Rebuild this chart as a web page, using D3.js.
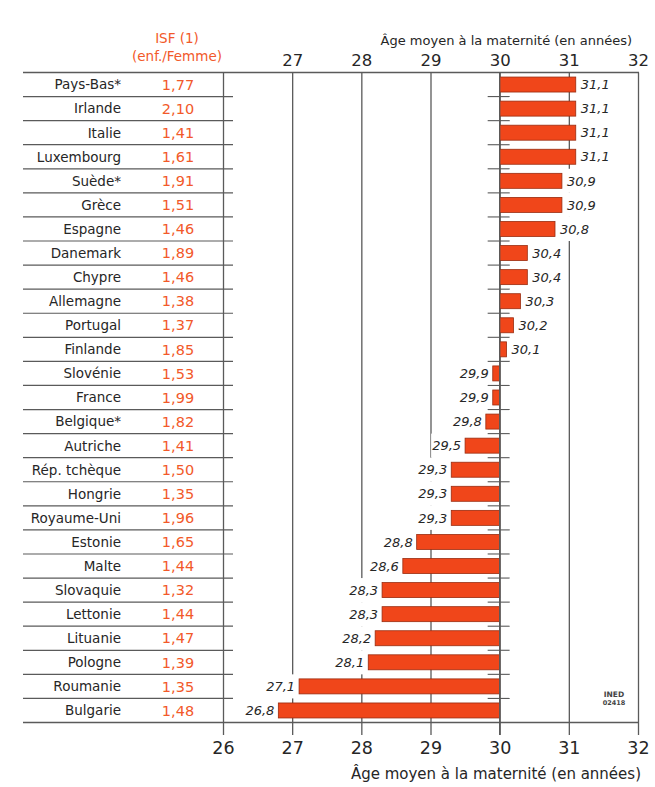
<!DOCTYPE html>
<html>
<head>
<meta charset="utf-8">
<script src="https://cdn.jsdelivr.net/npm/d3@7"></script>
<style>
  html, body { margin: 0; padding: 0; background: #fff; }
  svg { display: block; }
  text { font-family: "DejaVu Sans", sans-serif; }
</style>
</head>
<body>
<svg id="chart" width="655" height="787"></svg>
<script>
const countries = ["Pays-Bas*", "Irlande", "Italie", "Luxembourg", "Suède*", "Grèce", "Espagne",
  "Danemark", "Chypre", "Allemagne", "Portugal", "Finlande", "Slovénie", "France", "Belgique*",
  "Autriche", "Rép. tchèque", "Hongrie", "Royaume-Uni", "Estonie", "Malte", "Slovaquie",
  "Lettonie", "Lituanie", "Pologne", "Roumanie", "Bulgarie"];
const ageMaternite = [31.1, 31.1, 31.1, 31.1, 30.9, 30.9, 30.8, 30.4, 30.4, 30.3, 30.2, 30.1,
  29.9, 29.9, 29.8, 29.5, 29.3, 29.3, 29.3, 28.8, 28.6, 28.3, 28.3, 28.2, 28.1, 27.1, 26.8];
const isf = ["1,77", "2,10", "1,41", "1,61", "1,91", "1,51", "1,46", "1,89", "1,46", "1,38",
  "1,37", "1,85", "1,53", "1,99", "1,82", "1,41", "1,50", "1,35", "1,96", "1,65", "1,44",
  "1,32", "1,44", "1,47", "1,39", "1,35", "1,48"];
const topTicks = [27, 28, 29, 30, 31, 32];
const bottomTicks = [26, 27, 28, 29, 30, 31, 32];
const axisTitle = "Âge moyen à la maternité (en années)";

const svg = d3.select("#chart");
const TEXT = "#262626";
const LINE = "#5a5a5a";
const ORANGE = "#f2592a";
const BAR = "#f0461a";

const x = d3.scaleLinear().domain([26, 32]).range([223, 638]);
const y = d3.scaleBand().domain(countries).range([72.5, 722.5]).paddingInner(0).paddingOuter(0);
const step = y.step();
const barH = 15;
const left = 23, right = 639, tableRight = 233;
const gridBottom = 735;

// gridlines via bottom axis
const gAxisB = svg.append("g").attr("transform", `translate(0,${gridBottom})`)
  .call(d3.axisBottom(x).tickValues(bottomTicks).tickFormat(d3.format("d"))
    .tickSizeInner(-(gridBottom - 72.5)).tickSizeOuter(0).tickPadding(7));
gAxisB.select(".domain").remove();
gAxisB.selectAll(".tick line").attr("stroke", LINE).attr("stroke-width", 1.3);
gAxisB.selectAll(".tick text").attr("fill", TEXT).attr("font-size", 17.5)
  .attr("font-family", "DejaVu Sans, sans-serif");

// top axis labels
const gAxisT = svg.append("g").attr("transform", `translate(0,72.5)`)
  .call(d3.axisTop(x).tickValues(topTicks).tickFormat(d3.format("d"))
    .tickSizeInner(0).tickSizeOuter(0).tickPadding(7));
gAxisT.select(".domain").remove();
gAxisT.selectAll(".tick text").attr("fill", TEXT).attr("font-size", 16.5)
  .attr("font-family", "DejaVu Sans, sans-serif");

// bar value labels with white backgrounds
const labels = svg.append("g");
countries.forEach((c, i) => {
  const v = ageMaternite[i];
  const cy = y(c) + step / 2;
  const isRight = v >= 30;
  const lx = isRight ? x(v) + 5 : x(v) - 4;
  const t = labels.append("text")
    .attr("x", lx).attr("y", cy).attr("dy", "0.36em")
    .attr("text-anchor", isRight ? "start" : "end")
    .attr("font-size", 13).attr("font-style", "italic")
    .attr("fill", TEXT)
    .text(d3.format(".1f")(v).replace(".", ","));
  const bb = t.node().getBBox();
  labels.insert("rect", () => t.node())
    .attr("x", bb.x - 1).attr("y", y(c)).attr("width", bb.width + 2).attr("height", step)
    .attr("fill", "#fff");
});

// row separators (left table) and small ticks at 30
const boundaries = countries.slice(1).map(c => y(c));
svg.append("g").selectAll("line").data(boundaries).join("line")
  .attr("x1", left).attr("x2", tableRight).attr("y1", d => d).attr("y2", d => d)
  .attr("stroke", LINE).attr("stroke-width", 1.2);
svg.append("g").selectAll("line").data(boundaries).join("line")
  .attr("x1", x(30) - 12).attr("x2", x(30) + 10).attr("y1", d => d).attr("y2", d => d)
  .attr("stroke", LINE).attr("stroke-width", 1.1);

// top and bottom frame lines
svg.append("line").attr("x1", left).attr("x2", right).attr("y1", 72.5).attr("y2", 72.5)
  .attr("stroke", LINE).attr("stroke-width", 1.3);
svg.append("line").attr("x1", left).attr("x2", right).attr("y1", 722.5).attr("y2", 722.5)
  .attr("stroke", LINE).attr("stroke-width", 1.3);

// bars
svg.append("g").selectAll("rect").data(countries).join("rect")
  .attr("x", (c, i) => Math.min(x(30), x(ageMaternite[i])))
  .attr("width", (c, i) => Math.abs(x(ageMaternite[i]) - x(30)))
  .attr("y", c => y(c) + (step - barH) / 2)
  .attr("height", barH)
  .attr("fill", BAR).attr("stroke", "#9a2c10").attr("stroke-width", 0.8);

// redraw 30 axis line on top
svg.append("line").attr("x1", x(30)).attr("x2", x(30)).attr("y1", 72.5).attr("y2", gridBottom)
  .attr("stroke", LINE).attr("stroke-width", 1.3);

// country names
svg.append("g").selectAll("text").data(countries).join("text")
  .attr("x", 121).attr("y", c => y(c) + step / 2).attr("dy", "0.36em")
  .attr("text-anchor", "end").attr("font-size", 13.5).attr("fill", TEXT)
  .text(c => c);

// ISF values
svg.append("g").selectAll("text").data(isf).join("text")
  .attr("x", 178).attr("y", (d, i) => y(countries[i]) + step / 2).attr("dy", "0.36em")
  .attr("text-anchor", "middle").attr("font-size", 14.5).attr("fill", ORANGE)
  .text(d => d);

// ISF header
svg.append("text").attr("x", 177).attr("y", 43).attr("text-anchor", "middle")
  .attr("font-size", 13.5).attr("fill", ORANGE).text("ISF (1)");
svg.append("text").attr("x", 177).attr("y", 61).attr("text-anchor", "middle")
  .attr("font-size", 13.5).attr("fill", ORANGE).text("(enf./Femme)");

// axis titles
svg.append("text").attr("x", 632).attr("y", 45).attr("text-anchor", "end")
  .attr("font-size", 13).attr("fill", TEXT).text(axisTitle);
svg.append("text").attr("x", 641).attr("y", 779).attr("text-anchor", "end")
  .attr("font-size", 15).attr("fill", TEXT).text(axisTitle);

// INED mark
svg.append("text").attr("x", 614).attr("y", 697).attr("text-anchor", "middle")
  .attr("font-size", 7.5).attr("font-weight", "bold").attr("fill", "#444").text("INED");
svg.append("text").attr("x", 614).attr("y", 705).attr("text-anchor", "middle")
  .attr("font-size", 6.5).attr("font-weight", "bold").attr("fill", "#444").text("02418");
</script>
</body>
</html>
